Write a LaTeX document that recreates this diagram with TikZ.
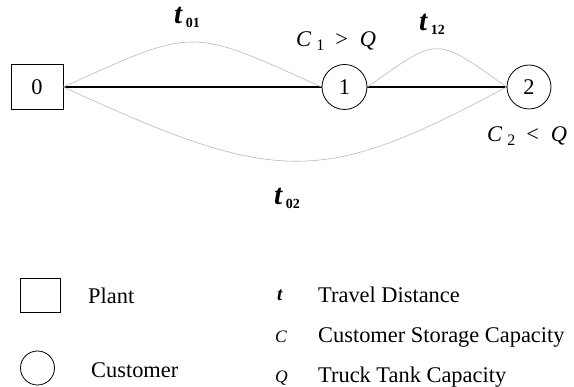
\documentclass[tikz,border=0pt]{standalone}
\usepackage{fontspec}
\setmainfont{Liberation Serif}
\usetikzlibrary{positioning}

\tikzset{
  plantnode/.style={draw, line width=0.8pt, minimum width=52pt, minimum height=45pt, inner sep=0pt},
  custnode/.style={draw, circle, line width=0.8pt, minimum size=45pt, inner sep=0pt},
  routeline/.style={line width=1.8pt},
  arcline/.style={gray!55, line width=0.6pt},
  lbl/.style={anchor=base west, inner sep=0pt},
  keysym/.style={lbl, font=\fontsize{17.5}{17.5}\selectfont\itshape},
}
\newcommand{\tarc}[1]{{\fontsize{29}{29}\selectfont\bfseries\itshape t}\,\raisebox{-3.5pt}{\fontsize{14}{14}\selectfont\bfseries #1}}
\newcommand{\capcond}[2]{\textit{C}\hspace{5pt}\raisebox{-3.5pt}{\fontsize{16}{16}\selectfont #1}\hspace{11pt}#2\hspace{12pt}\textit{Q}}

\begin{document}
\begin{tikzpicture}[x=1pt, y=-1pt, every node/.style={font=\fontsize{22.4}{26}\selectfont}]
  \useasboundingbox (0,0) rectangle (574,387);
  % --- plant and customers ---
  \node[plantnode] (n0) at (37,87) {0};
  \node[custnode] (n1) at (344.5,87) {1};
  \node[custnode, minimum size=44pt] (n2) at (529,87) {2};
  % route driven by the truck
  \draw[routeline] (n0.east) -- (n1.west);
  \draw[routeline] (n1.east) -- (n2.west);
  % travel distances
  \draw[arcline] (n0.east) .. controls +(133,-60) and +(-133,-60) .. (n1.west);
  \draw[arcline] (n1.east) .. controls +(72,-51) and +(-72,-51) .. (n2.west);
  \draw[arcline] (n0.east) .. controls +(215,99) and +(-185,99) .. (n2.west);
  \node[lbl] (t01) at (174,24) {\tarc{01}};
  \node[lbl] (t12) at (419,31) {\tarc{12}};
  \node[lbl] (t02) at (274,205) {\tarc{02}};
  % capacity conditions
  \node[lbl] (c1) at (296,47) {\capcond{1}{>}};
  \node[lbl] (c2) at (487,142) {\capcond{2}{<}};

  % --- legend ---
  \node[plantnode, minimum width=40pt, minimum height=34pt] (keyplant) at (40,295.5) {};
  \node[custnode, minimum size=34pt] (keycust) at (37.5,368) {};
  \node[lbl] (txtplant) at (88,304) {Plant};
  \node[lbl] (txtcust) at (91,378) {Customer};
  \node[keysym, font=\fontsize{19}{19}\selectfont\bfseries\itshape] (symt) at (277,301) {t};
  \node[keysym] (symc) at (275,342.5) {C};
  \node[keysym] (symq) at (275,382.5) {Q};
  \node[lbl] (txtt) at (318,303) {Travel Distance};
  \node[lbl] (txtc) at (318,343) {Customer Storage Capacity};
  \node[lbl] (txtq) at (318,383) {Truck Tank Capacity};
\end{tikzpicture}
\end{document}
